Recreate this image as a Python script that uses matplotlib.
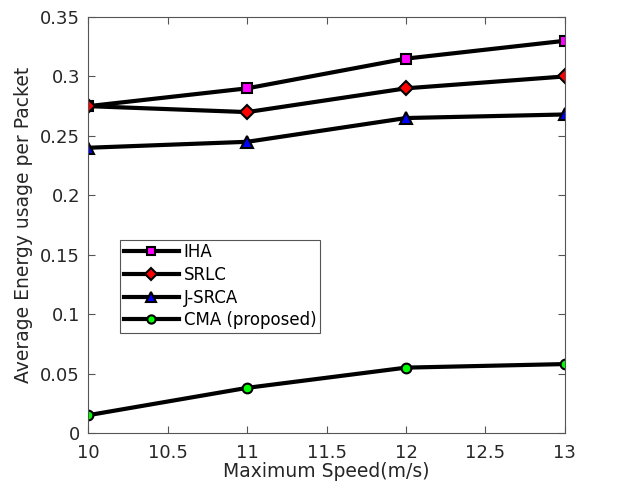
import matplotlib
matplotlib.use('Agg')
import matplotlib.pyplot as plt

speed = [10, 11, 12, 13]
iha = [0.275, 0.29, 0.315, 0.33]
srlc = [0.275, 0.27, 0.29, 0.30]
jsrca = [0.24, 0.245, 0.265, 0.268]
cma = [0.015, 0.038, 0.055, 0.058]

plt.rcParams['font.family'] = 'DejaVu Sans'

fig = plt.figure(figsize=(6.18, 4.93), dpi=100)
ax = fig.add_axes([0.143, 0.1217, 0.771, 0.8438])

ax.plot(speed, iha, '-s', color='black', lw=3, mfc='#ff00ff', mec='black', mew=1.5, ms=7, label='IHA')
ax.plot(speed, srlc, '-D', color='black', lw=3, mfc='#ff0000', mec='black', mew=1.5, ms=7, label='SRLC')
ax.plot(speed, jsrca, '-^', color='black', lw=3, mfc='#0000ff', mec='black', mew=1.5, ms=8, label='J-SRCA')
ax.plot(speed, cma, '-o', color='black', lw=3, mfc='#00ff00', mec='black', mew=1.5, ms=7, label='CMA (proposed)')

ax.set_xlim(10, 13)
ax.set_ylim(0, 0.35)
ax.set_xticks([10, 10.5, 11, 11.5, 12, 12.5, 13])
ax.set_xticklabels(['10', '10.5', '11', '11.5', '12', '12.5', '13'])
ax.set_yticks([0, 0.05, 0.1, 0.15, 0.2, 0.25, 0.3, 0.35])
ax.set_yticklabels(['0', '0.05', '0.1', '0.15', '0.2', '0.25', '0.3', '0.35'])
ax.tick_params(direction='in', top=True, right=True, labelsize=13, labelcolor='#262626',
               color='#555555', length=5)
ax.tick_params(axis='x', pad=8)
ax.tick_params(axis='y', pad=6)
for s in ax.spines.values():
    s.set_color('#555555')
    s.set_linewidth(0.8)
ax.set_xlabel('Maximum Speed(m/s)', fontsize=13.5, color='#262626', labelpad=0)
ax.set_ylabel('Average Energy usage per Packet', fontsize=13.5, color='#262626', labelpad=5)

leg = ax.legend(loc='upper left', bbox_to_anchor=(0.194, 0.514), bbox_transform=fig.transFigure,
                fontsize=12, fancybox=False, edgecolor='#555555', framealpha=1,
                handlelength=3.3, handletextpad=0.3, borderpad=0.22, labelspacing=0.28,
                borderaxespad=0, markerscale=0.85)
leg.get_frame().set_linewidth(0.8)

fig.savefig('out.png', dpi=100)
